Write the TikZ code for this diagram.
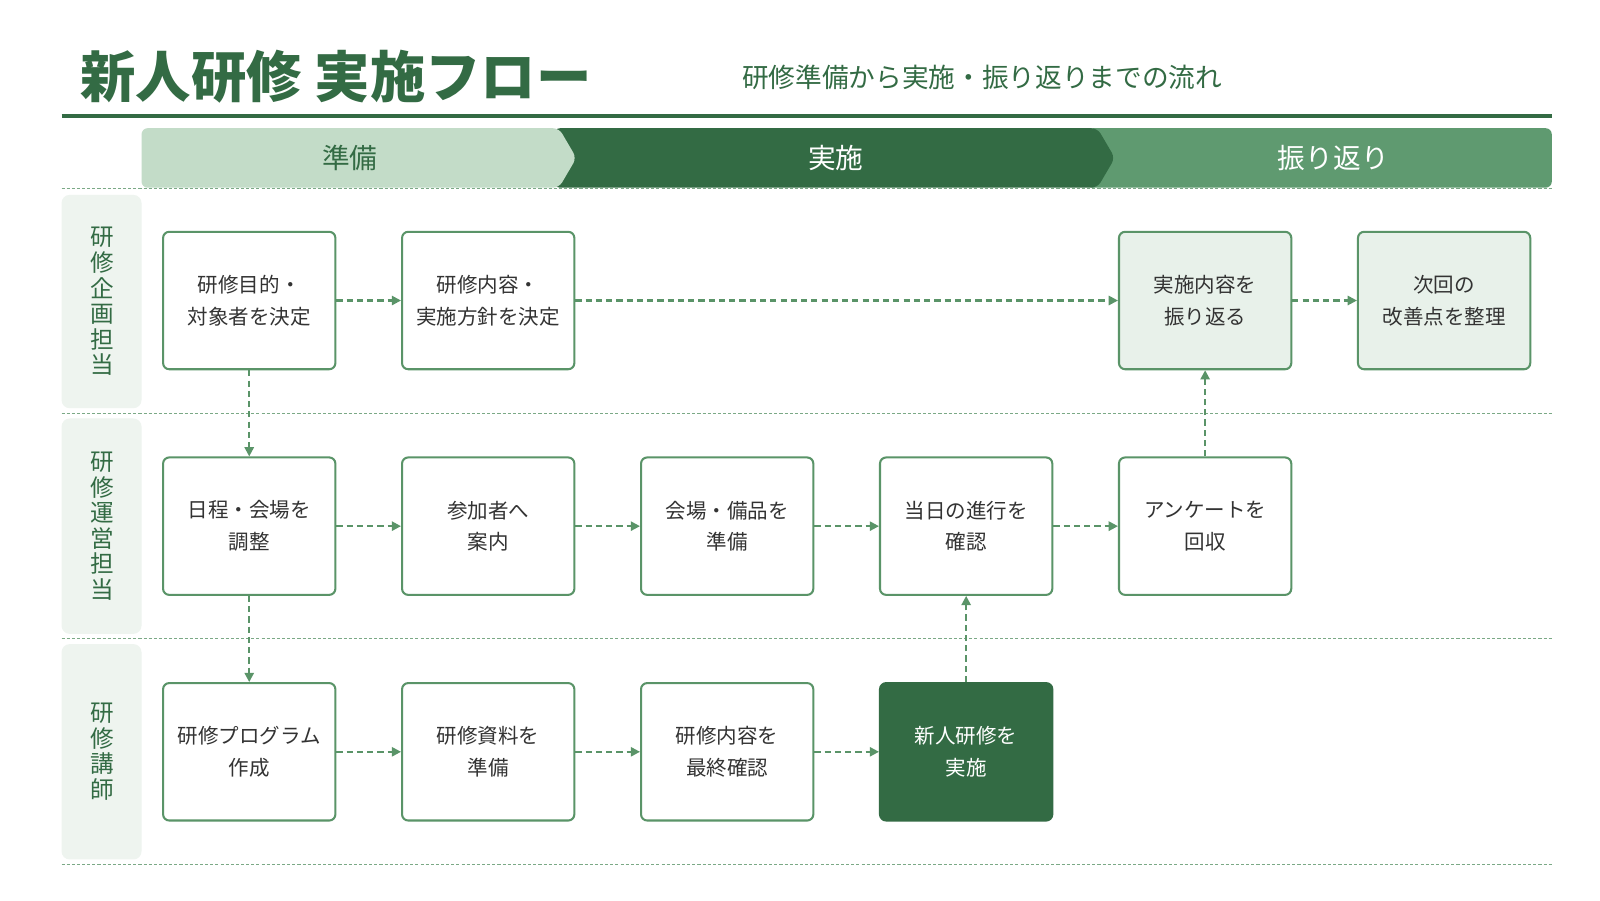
\documentclass[tikz,border=0pt]{standalone}
\usepackage{fontspec}
\setmainfont{Noto Sans CJK JP}
\usetikzlibrary{arrows.meta}
\definecolor{dg}{HTML}{336B44}
\definecolor{mg}{HTML}{5F9A70}
\definecolor{lg}{HTML}{C3DCC8}
\definecolor{bd}{HTML}{5A9468}
\definecolor{pale}{HTML}{EEF4EF}
\definecolor{fillb}{HTML}{E8F1EA}
\definecolor{tx}{HTML}{333333}
\begin{document}
\begin{tikzpicture}[x=1pt,y=-1pt,
  box/.style={draw=bd,line width=2pt,rounded corners=6pt,fill=white,minimum width=168pt,minimum height=134pt,align=center,text=tx,font=\fontsize{20}{31}\selectfont},
  rev/.style={box,fill=fillb},
  dk/.style={box,fill=dg,draw=dg,text=white},
  arr/.style={draw=bd,line width=2pt,dash pattern=on 6pt off 4pt,-{Triangle[length=9pt,width=9pt]}},
  sep/.style={draw=bd!80,line width=1pt,dash pattern=on 3pt off 2pt},
  lane/.style={fill=pale,rounded corners=8pt},
  lanetxt/.style={text=dg,font=\fontsize{23}{25}\selectfont,align=center}]
\useasboundingbox (0,0) rectangle (1560,878);
\fill[white] (0,0) rectangle (1560,878);
\node[anchor=west,text=dg,font=\fontsize{54}{60}\selectfont\bfseries] (title) at (75,75) {新人研修 実施フロー};
\node[anchor=west,text=dg,font=\fontsize{26}{30}\selectfont] (sub) at (720,75) {研修準備から実施・振り返りまでの流れ};
\draw[dg,line width=4pt] (60,113) -- (1513,113);
% phase bar
\fill[mg,rounded corners=6pt] (1060,125) rectangle (1513,183);
\fill[dg,rounded corners=6pt] (540,125) -- (1070,125) -- (1087,154) -- (1070,183) -- (540,183) -- cycle;
\fill[lg,rounded corners=6pt] (138,125) -- (545,125) -- (562,154) -- (545,183) -- (138,183) -- cycle;
\node[text=dg,font=\fontsize{27}{30}\selectfont] (p1) at (341,154) {準備};
\node[text=white,font=\fontsize{27}{30}\selectfont] (p2) at (815,154) {実施};
\node[text=white,font=\fontsize{27}{30}\selectfont] (p3) at (1300,154) {振り返り};
% lanes
\foreach \y in {184,403,623,843} \draw[sep] (60,\y) -- (1513,\y);
\fill[lane] (60,190) rectangle (138,398);
\fill[lane] (60,408) rectangle (138,618);
\fill[lane] (60,628) rectangle (138,838);
\node[lanetxt] (l1) at (100,294) {研\\修\\企\\画\\担\\当};
\node[lanetxt] (l2) at (100,513) {研\\修\\運\\営\\担\\当};
\node[lanetxt] (l3) at (100,733) {研\\修\\講\\師};
% nodes
\node[box] (a1) at (243,293) {研修目的・\\対象者を決定};
\node[box] (a2) at (476,293) {研修内容・\\実施方針を決定};
\node[rev] (a5) at (1175,293) {実施内容を\\振り返る};
\node[rev] (a6) at (1408,293) {次回の\\改善点を整理};
\node[box] (b1) at (243,513) {日程・会場を\\調整};
\node[box] (b2) at (476,513) {参加者へ\\案内};
\node[box] (b3) at (709,513) {会場・備品を\\準備};
\node[box] (b4) at (942,513) {当日の進行を\\確認};
\node[box] (b5) at (1175,513) {アンケートを\\回収};
\node[box] (c1) at (243,733) {研修プログラム\\作成};
\node[box] (c2) at (476,733) {研修資料を\\準備};
\node[box] (c3) at (709,733) {研修内容を\\最終確認};
\node[dk] (c4) at (942,733) {新人研修を\\実施};
% edges
\draw[arr] (a1) -- (a2);
\draw[arr] (a2) -- (a5);
\draw[arr] (a5) -- (a6);
\draw[arr] (a1) -- (b1);
\draw[arr] (b1) -- (c1);
\draw[arr] (b1) -- (b2);
\draw[arr] (b2) -- (b3);
\draw[arr] (b3) -- (b4);
\draw[arr] (b4) -- (b5);
\draw[arr] (b5) -- (a5);
\draw[arr] (c1) -- (c2);
\draw[arr] (c2) -- (c3);
\draw[arr] (c3) -- (c4);
\draw[arr] (c4) -- (b4);
\end{tikzpicture}
\end{document}
